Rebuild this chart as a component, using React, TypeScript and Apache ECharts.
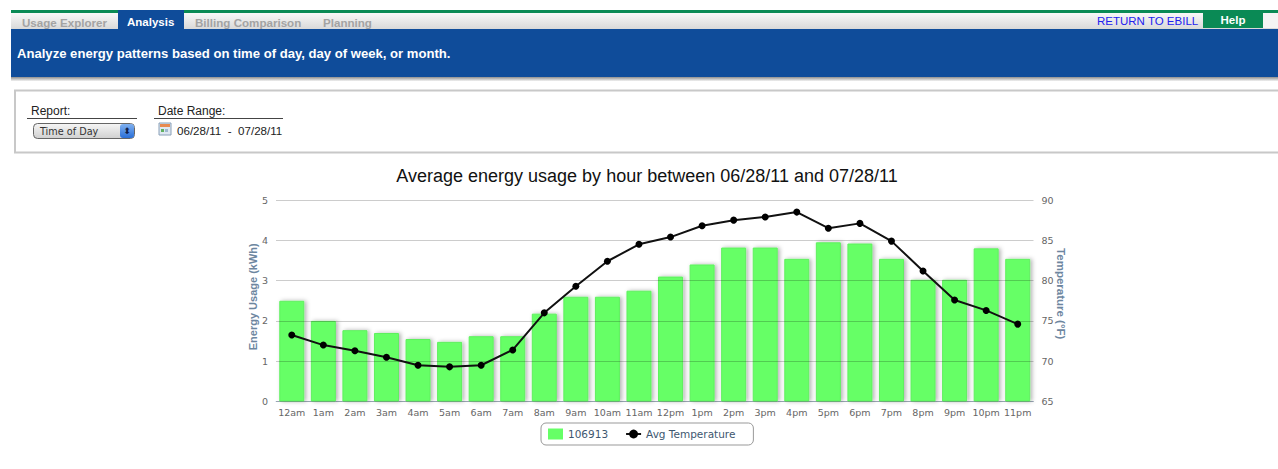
import React, { useEffect, useRef } from "react";
import * as echarts from "echarts";

const hours = ["12am","1am","2am","3am","4am","5am","6am","7am","8am","9am","10am","11am","12pm","1pm","2pm","3pm","4pm","5pm","6pm","7pm","8pm","9pm","10pm","11pm"];
const usage = [2.5,2.0,1.77,1.7,1.55,1.48,1.62,1.62,2.18,2.6,2.6,2.75,3.1,3.4,3.82,3.82,3.54,3.95,3.92,3.54,3.02,3.02,3.8,3.54];
const temperature = [73.25,72.0,71.3,70.5,69.5,69.3,69.5,71.4,76.0,79.3,82.4,84.5,85.4,86.8,87.5,87.9,88.5,86.5,87.1,84.9,81.2,77.6,76.3,74.6];
const inactiveTabs = [
  { label: "Usage Explorer", x: 22 },
  { label: "Billing Comparison", x: 195 },
  { label: "Planning", x: 323 },
];

const sans = "Liberation Sans, Arial, sans-serif";
const grad = (a: string, b: string) => new echarts.graphic.LinearGradient(0, 0, 0, 1, [
  { offset: 0, color: a }, { offset: 1, color: b },
]);

function text(x: number, y: number, t: string, font: string, fill: string, align = "left") {
  return { type: "text", x, y, z: 10, style: { text: t, font, fill, align, verticalAlign: "middle" } };
}
function rect(x: number, y: number, width: number, height: number, fill: any, extra: any = {}) {
  const { r, ...style } = extra;
  return { type: "rect", x, y, z: 5, shape: { width, height, r: r || 0 }, style: { fill, ...style } };
}
function line(x1: number, y1: number, x2: number, y2: number, stroke: string, lineWidth = 1) {
  return { type: "line", z: 6, shape: { x1, y1, x2, y2 }, style: { stroke, lineWidth } };
}

const chrome: any[] = [
  rect(11, 10, 1267, 3, "#0a8a55"),
  rect(11, 13, 1267, 16, grad("#f8f8f8", "#d9d9d9")),
  rect(118, 10, 66, 19, "#0f4c9a"),
  ...inactiveTabs.map((t) => text(t.x, 22, t.label, "bold 11.6px " + sans, "#a3a3a3")),
  text(127, 22, "Analysis", "bold 11.5px " + sans, "#ffffff"),
  text(1097, 21, "RETURN TO EBILL", "11.5px " + sans, "#2222ee"),
  rect(1203, 13, 60, 15, "#0a8a55"),
  text(1233, 20, "Help", "bold 11.5px " + sans, "#ffffff", "center"),
  rect(1263, 13, 15, 15, "#f4f4f4"),
  rect(11, 29, 1267, 48, "#0f4c9a"),
  rect(11, 77, 1267, 4, grad("#8f8f8f", "#f2f2f2")),
  text(17, 53, "Analyze energy patterns based on time of day, day of week, or month.", "bold 13.1px " + sans, "#ffffff"),
  rect(15, 90.5, 1270, 62, "#ffffff", { stroke: "#c8c8c8", lineWidth: 2 }),
  text(31, 111, "Report:", "12px " + sans, "#222222"),
  line(27, 118.5, 137, 118.5, "#444444"),
  text(158, 111, "Date Range:", "12px " + sans, "#222222"),
  line(154, 118.5, 283, 118.5, "#444444"),
  rect(33.5, 123.5, 101, 15, grad("#f6f6f6", "#d0d0d0"), { stroke: "#666666", lineWidth: 1, r: 4 }),
  rect(120, 124, 14, 14, grad("#7fb0f0", "#2a6fd8"), { r: 3 }),
  text(127, 130.5, "⬍", "9px DejaVu Sans", "#10204a", "center"),
  text(40, 131, "Time of Day", "9.7px DejaVu Sans", "#333333"),
  rect(159, 123, 12, 12, "#dfe8f2", { stroke: "#8aa0b8", lineWidth: 1 }),
  rect(160, 124, 10, 3, "#e88a50"),
  rect(161, 129, 3, 3, "#60b060"),
  rect(165, 129, 3, 3, "#a0b8d0"),
  text(177, 130, "06/28/11  -  07/28/11", "11.6px " + sans, "#222222"),
];

export default function App() {
  const ref = useRef<HTMLDivElement>(null);
  useEffect(() => {
    const chart = echarts.init(ref.current!, undefined, { renderer: "svg" });
    chart.setOption({
      animation: false,
      backgroundColor: "#ffffff",
      title: {
        text: "Average energy usage by hour between 06/28/11 and 07/28/11",
        left: 642, top: 162, textAlign: "center",
        textStyle: { fontFamily: sans, fontSize: 18, fontWeight: "normal", color: "#111111" },
      },
      grid: { left: 276, right: 244.5, top: 200, bottom: 67.5, containLabel: false },
      legend: {
        left: 541, top: 423, padding: [5.5, 18, 5.5, 7],
        borderWidth: 1, borderColor: "#999999", borderRadius: 5,
        itemGap: 17, itemWidth: 15, itemHeight: 11,
        textStyle: { fontFamily: "DejaVu Sans", fontSize: 10.5, color: "#3e576f" },
        data: [
          { name: "106913", icon: "rect", itemStyle: { color: "#66ff66", opacity: 1, shadowBlur: 0, borderWidth: 0 } },
          { name: "Avg Temperature" },
        ],
      },
      xAxis: {
        type: "category", data: hours,
        axisLine: { lineStyle: { color: "#c0d0e0" } },
        axisTick: { alignWithLabel: true, length: 5, lineStyle: { color: "#c0d0e0" } },
        axisLabel: { interval: 0, margin: 6, fontFamily: "DejaVu Sans", fontSize: 9.5, color: "#666666" },
      },
      yAxis: [
        {
          type: "value", min: 0, max: 5, interval: 1, z: 1.5,
          name: "Energy Usage (kWh)", nameLocation: "middle", nameGap: 18, nameRotate: 90, nameMoveOverlap: false,
          nameTextStyle: { fontFamily: sans, fontSize: 11, fontWeight: "bold", color: "#6d869f", padding: [0, 0, 0, 8] },
          axisLine: { show: false }, axisTick: { show: false },
          axisLabel: { margin: 8, fontFamily: "DejaVu Sans", fontSize: 9.5, color: "#666666" },
          splitLine: { lineStyle: { color: "rgba(0,0,0,0.2)" } },
        },
        {
          type: "value", min: 65, max: 90, interval: 5,
          name: "Temperature (°F)", nameLocation: "middle", nameGap: 21, nameRotate: -90, nameMoveOverlap: false,
          nameTextStyle: { fontFamily: sans, fontSize: 11.5, fontWeight: "bold", color: "#6d869f", padding: [0, 14, 0, 0] },
          axisLine: { show: false }, axisTick: { show: false },
          axisLabel: { margin: 8, fontFamily: "DejaVu Sans", fontSize: 9.5, color: "#666666" },
          splitLine: { show: false },
        },
      ],
      series: [
        {
          name: "106913", type: "bar", data: usage, barWidth: 25, yAxisIndex: 0, z: 1,
          itemStyle: {
            color: "#66ff66", borderColor: "#5ff05f", borderWidth: 1,
            shadowColor: "rgba(0,0,0,0.3)", shadowBlur: 4, shadowOffsetX: 2, shadowOffsetY: 0,
          },
        },
        {
          name: "Avg Temperature", type: "line", data: temperature, yAxisIndex: 1, z: 3,
          symbol: "circle", symbolSize: 7, showSymbol: true,
          lineStyle: { color: "#111111", width: 2 },
          itemStyle: { color: "#000000" },
        },
      ],
      graphic: { elements: chrome },
    });
    return () => chart.dispose();
  }, []);
  return <div ref={ref} style={{ position: "fixed", left: 0, top: 0, width: 1278, height: 469 }} />;
}
